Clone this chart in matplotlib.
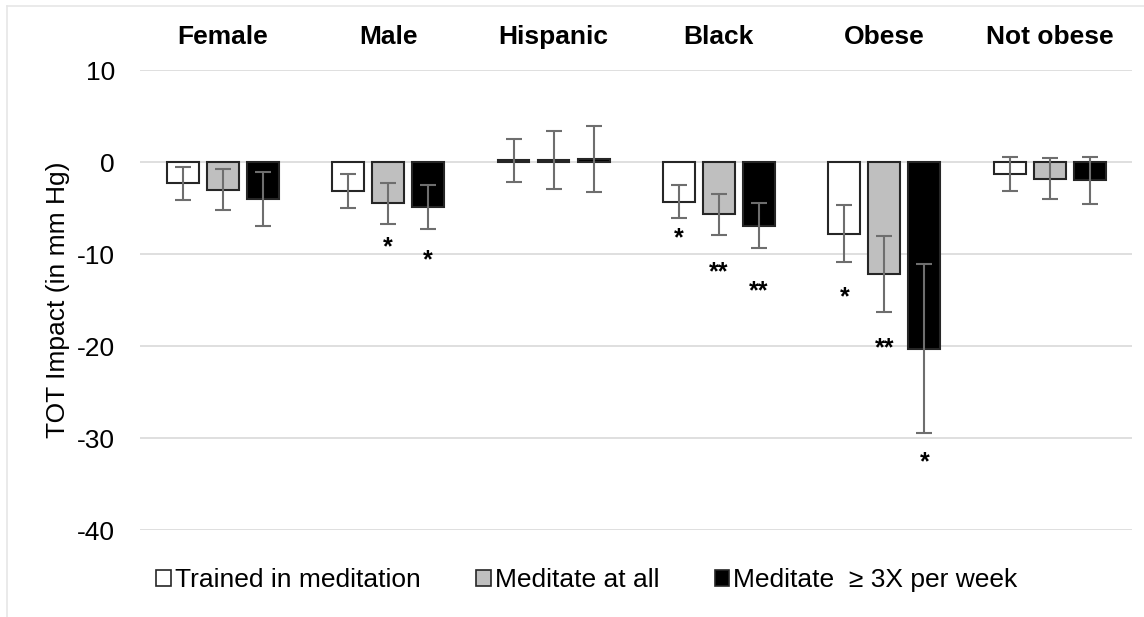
import numpy as np
import matplotlib.pyplot as plt
from matplotlib.lines import Line2D
from matplotlib.patches import Patch

plt.rcParams['font.family'] = ['Liberation Sans', 'DejaVu Sans']
plt.rcParams['axes.unicode_minus'] = False

groups = ['Female', 'Male', 'Hispanic', 'Black', 'Obese', 'Not obese']
series = ['Trained in meditation', 'Meditate at all', 'Meditate  \u2265 3X per week']

trained = [-2.3, -3.2, 0.2, -4.3, -7.8, -1.3]
trained_err = [1.8, 1.85, 2.35, 1.8, 3.1, 1.85]
at_all = [-3.0, -4.5, 0.25, -5.7, -12.2, -1.8]
at_all_err = [2.2, 2.2, 3.15, 2.2, 4.15, 2.2]
three_x = [-4.0, -4.9, 0.3, -6.9, -20.3, -2.0]
three_x_err = [2.95, 2.4, 3.6, 2.5, 9.2, 2.55]

# significance marks: (group index, series index, y position, text)
stars = [(1, 1, -9.3, '*'), (1, 2, -10.7, '*'),
         (3, 0, -8.3, '*'), (3, 1, -12.0, '**'), (3, 2, -14.0, '**'),
         (4, 0, -14.7, '*'), (4, 1, -20.2, '**'), (4, 2, -32.6, '*')]

fig = plt.figure(figsize=(11.44, 6.17), dpi=100)
ax = fig.add_axes([0.1224, 0.141, 0.8675, 0.7455])

x = np.arange(len(groups))
width = 0.193
pitch = 0.242
colors = ['white', '#bfbfbf', 'black']
vals = [trained, at_all, three_x]
errs = [trained_err, at_all_err, three_x_err]

for i in range(3):
    xs = x + (i - 1) * pitch
    ax.bar(xs, vals[i], width, color=colors[i], edgecolor='#262626', linewidth=1.5, zorder=2)
    ax.errorbar(xs, vals[i], yerr=errs[i], fmt='none', ecolor='#6e6e6e',
                elinewidth=1.5, capsize=6, capthick=1.5, zorder=3)

for g, s, y, t in stars:
    ax.text(x[g] + (s - 1) * pitch, y, t, ha='center', va='center', fontsize=18,
            fontweight='bold', color='black')

ax.set_xlim(-0.5, len(groups) - 0.5)
ax.set_ylim(-40, 10)
ax.set_yticks([10, 0, -10, -20, -30, -40])
ax.tick_params(axis='y', length=0, labelsize=19, pad=18)
ax.yaxis.grid(True, color='#d9d9d9', linewidth=1.2, zorder=0)
ax.set_axisbelow(True)
ax.set_xticks([])
for sp in ax.spines.values():
    sp.set_visible(False)

for g, name in enumerate(groups):
    ax.text(x[g], 13.6, name, ha='center', va='center', fontsize=19, fontweight='bold')

ax.set_ylabel('TOT Impact (in mm Hg)', fontsize=19)
ax.yaxis.set_label_coords(-0.071, 0.5)

handles = [Patch(facecolor=c, edgecolor='#262626', linewidth=1.2) for c in colors]
fig.legend(handles, series, loc='center', bbox_to_anchor=(0.513, 0.06), ncol=3,
           frameon=False, fontsize=19, handlelength=0.55, handleheight=0.55,
           handletextpad=0.15, columnspacing=2.1)

# light frame along top and left edges
fig.add_artist(Line2D([7 / 1144, 1], [1 - 6 / 617, 1 - 6 / 617], color='#e6e6e6', lw=1.2))
fig.add_artist(Line2D([7 / 1144, 7 / 1144], [0, 1 - 6 / 617], color='#e6e6e6', lw=1.2))

fig.savefig('out.png', dpi=100)
